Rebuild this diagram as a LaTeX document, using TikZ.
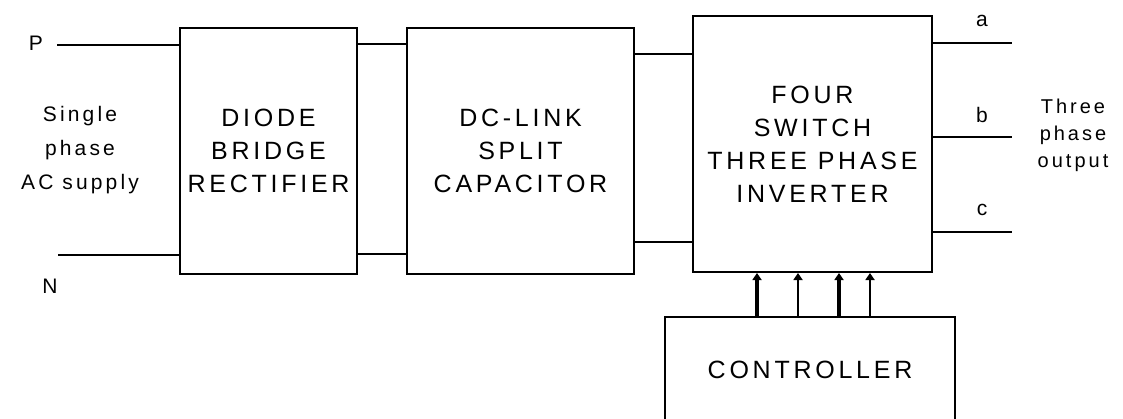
\documentclass[tikz,border=0pt]{standalone}
\usepackage{fontspec}
\setmainfont{Liberation Sans}[LetterSpace=15]
\usetikzlibrary{arrows.meta, positioning}
\tikzset{
	blk/.style ={rectangle, draw=black, line width=2pt, align=center, inner sep=0pt, font=\fontsize{25}{33}\selectfont},
	lbl/.style ={align=center, inner sep=0pt, font=\fontsize{21}{34}\selectfont},
	wire/.style={line width=2pt},
	sig/.style ={-{Triangle[length=7pt, width=9pt]}},
}

\begin{document}
\begin{tikzpicture}[x=1pt, y=-1pt]
	\useasboundingbox (0,0) rectangle (1123,418);
	\clip (0,0) rectangle (1123,418);
	% blocks
	\node[blk, minimum width=177, minimum height=246] (d) at (268.5,150.5) {DIODE\\ BRIDGE\\ RECTIFIER};
	\node[blk, minimum width=227, minimum height=246] (c) at (520.5,151) {DC-LINK\\ SPLIT\\ CAPACITOR};
	\node[blk, minimum width=239, minimum height=256] (i) at (812.5,144) {FOUR\\ SWITCH\\ THREE PHASE\\ INVERTER};
	\node[blk, minimum width=290, minimum height=106] (k) at (810,370) {CONTROLLER};
	% supply side
	\coordinate (p) at (57,45);
	\coordinate (n) at (58,255);
	\node[lbl] (pl) at (36,43) {P};
	\node[lbl] (nl) at (50,286) {N};
	\node[lbl] (ac) at (80,150) {Single\\ phase\\ AC supply};
	\draw[wire] (p) -- (p -| d.west);
	\draw[wire] (n) -- (n -| d.west);
	\draw[wire] (d.east |- 0,44) -- (c.west |- 0,44);
	\draw[wire] (d.east |- 0,254) -- (c.west |- 0,254);
	\draw[wire] (c.east |- 0,54) -- (i.west |- 0,54);
	\draw[wire] (c.east |- 0,242) -- (i.west |- 0,242);
	% outputs
	\foreach \n/\y in {a/43, b/137, c/232} {
		\coordinate (o\n) at (1012,\y);
		\node[lbl] (l\n) at (982,\y-22) {\n};
		\draw[wire] (o\n -| i.east) -- (o\n);
	}
	\node[lbl, font=\fontsize{20}{27}\selectfont] (out) at (1073,135) {Three\\ phase\\ output};
	% gate signals
	\foreach \x/\w in {757/3.5pt, 798/1.8pt, 839/3.5pt, 870/1.8pt}
		\draw[sig, line width=\w] (k.north -| \x,0) -- (i.south -| \x,0);
\end{tikzpicture}
\end{document}
